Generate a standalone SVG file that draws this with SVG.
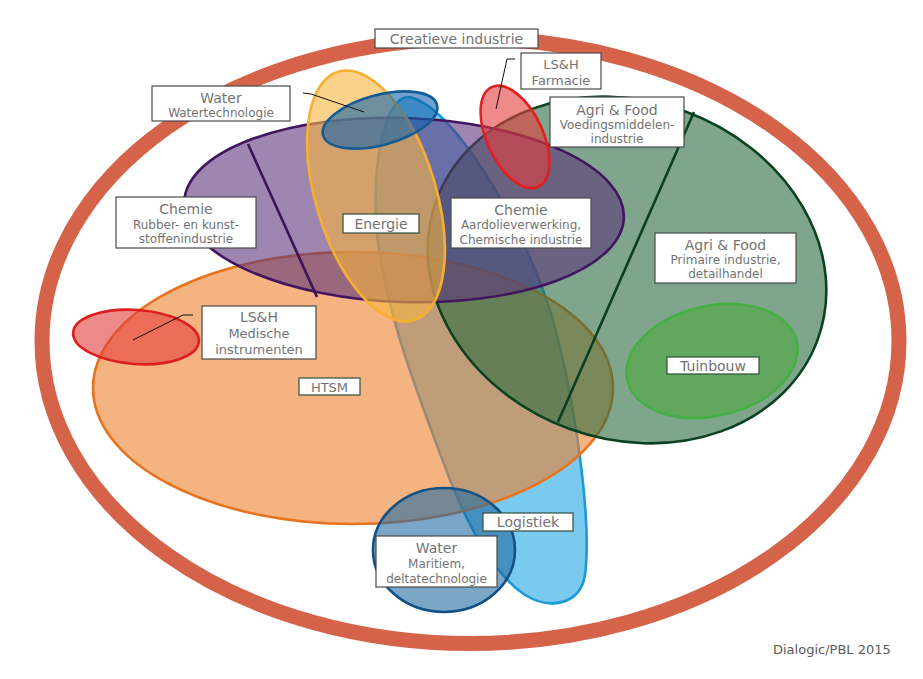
<svg xmlns="http://www.w3.org/2000/svg" width="923" height="679" viewBox="0 0 923 679">
<style>
  .lbl { fill: #ffffff; stroke: #4a4a4a; stroke-width: 1.2; }
  .lbl2 { fill: #ffffff; stroke: #2f4f3a; stroke-width: 1.2; }
  text { font-family: "DejaVu Sans", Verdana, sans-serif; fill: #737373; text-anchor: middle; }
  .t14 { font-size: 14px; }
  .t13 { font-size: 13px; }
  .t12 { font-size: 12px; }
  .lead { fill: none; stroke: #111111; stroke-width: 1; }
  .shape { stroke-width: 2.6; }
</style>
<rect width="923" height="679" fill="#ffffff"/>

<g id="creatieve-industrie">
  <ellipse cx="470.5" cy="341" rx="428.5" ry="302.5" fill="none" stroke="#d5634a" stroke-width="15"/>
</g>

<g id="logistiek">
  <path class="shape" d="M 407 97 C 450 100, 525 225, 553 320 C 575 400, 592 520, 585 575 C 580 605, 550 610, 525 595 C 495 575, 470 530, 450 480 C 420 400, 380 300, 376 220 C 373 160, 385 100, 407 97 Z" fill="#7ac9ee" stroke="#1a9ad8"/>
</g>

<g id="htsm">
  <ellipse class="shape" cx="353" cy="388" rx="260" ry="136" fill="#ee802d" fill-opacity="0.6" stroke="#e8731e"/>
</g>

<g id="agri-food">
  <ellipse class="shape" cx="627" cy="270" rx="203" ry="169" transform="rotate(20 627 270)" fill="#2a6b3f" fill-opacity="0.6" stroke="#0b4320"/>
</g>

<g id="chemie">
  <ellipse class="shape" cx="404" cy="210" rx="220" ry="92" transform="rotate(2 404 210)" fill="#5d357b" fill-opacity="0.6" stroke="#41165e"/>
</g>

<g id="energie">
  <ellipse class="shape" cx="376" cy="196" rx="60" ry="130" transform="rotate(-17 376 196)" fill="#f8b43f" fill-opacity="0.6" stroke="#f5b030"/>
</g>

<g id="water-watertechnologie">
  <ellipse class="shape" cx="380" cy="120" rx="59" ry="25" transform="rotate(-15 380 120)" fill="#1263ab" fill-opacity="0.6" stroke="#135c94"/>
</g>

<g id="lsh-farmacie">
  <ellipse class="shape" cx="515" cy="137" rx="28" ry="55" transform="rotate(-25 515 137)" fill="#e43c3c" fill-opacity="0.6" stroke="#e01f1f"/>
</g>

<g id="lsh-medische">
  <ellipse class="shape" cx="136" cy="337" rx="63" ry="27" transform="rotate(4 136 337)" fill="#e43c3c" fill-opacity="0.6" stroke="#dc1e1e"/>
</g>

<g id="tuinbouw">
  <ellipse class="shape" cx="712" cy="361" rx="87" ry="55" transform="rotate(-13 712 361)" fill="#4fa93f" fill-opacity="0.6" stroke="#44b044"/>
</g>

<g id="water-maritiem">
  <ellipse class="shape" cx="444" cy="550" rx="71" ry="62" fill="#216ba3" fill-opacity="0.6" stroke="#135083"/>
</g>

<g id="connectors">
  <line x1="248" y1="144" x2="317" y2="297" stroke="#3d1258" stroke-width="2.6"/>
  <line x1="694" y1="112" x2="558" y2="422" stroke="#0a4020" stroke-width="2.6"/>
  <polyline class="lead" points="303,93 311,94 364,112"/>
  <polyline class="lead" points="515,59 507,59 496,109"/>
  <polyline class="lead" points="193,315 183,315 133,340"/>
</g>

<g id="label-creatieve">
  <rect class="lbl" x="375" y="29" width="163" height="19"/>
  <text class="t14" x="456.5" y="44">Creatieve industrie</text>
</g>
<g id="label-watertechnologie">
  <rect class="lbl" x="152" y="86" width="138" height="35"/>
  <text class="t14" x="221" y="103">Water</text>
  <text class="t12" x="221" y="117">Watertechnologie</text>
</g>
<g id="label-farmacie">
  <rect class="lbl" x="521" y="53" width="80" height="36"/>
  <text class="t13" x="561" y="69">LS&amp;H</text>
  <text class="t13" x="561" y="85">Farmacie</text>
</g>
<g id="label-voedingsmiddelen">
  <rect class="lbl" x="550" y="97" width="134" height="50"/>
  <text class="t14" x="617" y="115">Agri &amp; Food</text>
  <text class="t12" x="617" y="129">Voedingsmiddelen-</text>
  <text class="t12" x="617" y="143">industrie</text>
</g>
<g id="label-rubber">
  <rect class="lbl" x="116" y="197" width="140" height="51"/>
  <text class="t14" x="186" y="214">Chemie</text>
  <text class="t12" x="186" y="229">Rubber- en kunst-</text>
  <text class="t12" x="186" y="243">stoffenindustrie</text>
</g>
<g id="label-medische">
  <rect class="lbl" x="202" y="306" width="114" height="53"/>
  <text class="t14" x="259" y="322">LS&amp;H</text>
  <text class="t13" x="259" y="338">Medische</text>
  <text class="t13" x="259" y="354">instrumenten</text>
</g>
<g id="label-energie">
  <rect class="lbl2" x="343" y="214" width="76" height="19"/>
  <text class="t14" x="381" y="229">Energie</text>
</g>
<g id="label-aardolie">
  <rect class="lbl" x="451" y="198" width="140" height="50"/>
  <text class="t14" x="521" y="215">Chemie</text>
  <text class="t12" x="521" y="229">Aardolieverwerking,</text>
  <text class="t12" x="521" y="244">Chemische industrie</text>
</g>
<g id="label-primaire">
  <rect class="lbl" x="655" y="233" width="141" height="50"/>
  <text class="t14" x="725.5" y="250">Agri &amp; Food</text>
  <text class="t12" x="725.5" y="264">Primaire industrie,</text>
  <text class="t12" x="725.5" y="278">detailhandel</text>
</g>
<g id="label-tuinbouw">
  <rect class="lbl2" x="667" y="357" width="92" height="17"/>
  <text class="t14" x="713" y="371">Tuinbouw</text>
</g>
<g id="label-htsm">
  <rect class="lbl2" x="299" y="378" width="61" height="17"/>
  <text class="t13" x="329.5" y="392">HTSM</text>
</g>
<g id="label-logistiek">
  <rect class="lbl2" x="483" y="513" width="90" height="18"/>
  <text class="t14" x="528" y="527">Logistiek</text>
</g>
<g id="label-maritiem">
  <rect class="lbl" x="376" y="536" width="121" height="51"/>
  <text class="t14" x="436.5" y="553">Water</text>
  <text class="t12" x="436.5" y="568">Maritiem,</text>
  <text class="t12" x="436.5" y="583">deltatechnologie</text>
</g>
<g id="credit">
  <text class="t13" x="773" y="654" style="text-anchor:start; fill:#5a5a5a">Dialogic/PBL 2015</text>
</g>
</svg>
